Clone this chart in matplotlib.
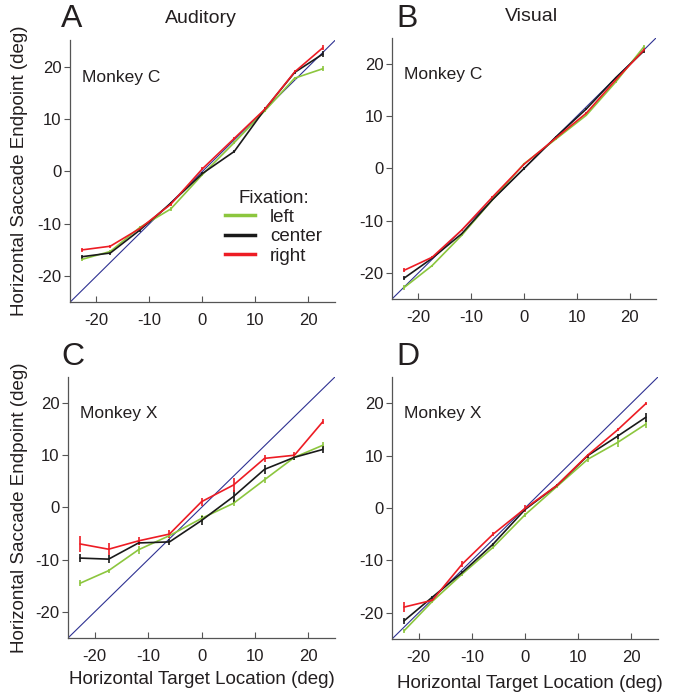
import numpy as np
import matplotlib.pyplot as plt
from matplotlib.lines import Line2D

plt.rcParams['font.family'] = ['Liberation Sans', 'DejaVu Sans']
plt.rcParams['axes.unicode_minus'] = False

# target locations (deg)
targets = [-22.7, -17.4, -11.8, -6.0, 0.0, 6.0, 11.8, 17.4, 22.7]

# Monkey C, auditory
aud_c_left = [-16.8, -15.3, -10.7, -7.2, -0.6, 5.5, 11.6, 17.8, 19.6]
aud_c_center = [-16.3, -15.6, -11.2, -6.1, -0.4, 3.8, 11.9, 18.9, 22.4]
aud_c_right = [-15.0, -14.3, -10.9, -6.3, 0.5, 6.3, 11.9, 19.0, 23.6]
aud_c_err = [0.4, 0.3, 0.3, 0.3, 0.3, 0.3, 0.3, 0.3, 0.5]

# Monkey C, visual
vis_c_left = [-22.8, -18.6, -12.8, -6.0, 0.9, 5.6, 10.2, 16.6, 23.3]
vis_c_center = [-21.0, -17.2, -12.5, -6.0, 0.0, 6.0, 11.4, 17.4, 22.5]
vis_c_right = [-19.5, -17.0, -11.8, -5.5, 0.8, 5.8, 10.6, 17.0, 22.7]
vis_c_err = [0.4, 0.2, 0.2, 0.2, 0.2, 0.2, 0.2, 0.2, 0.3]

# Monkey X, auditory
aud_x_left = [-14.5, -12.1, -8.1, -5.4, -2.1, 0.8, 5.3, 9.6, 11.9]
aud_x_center = [-9.7, -9.9, -6.8, -6.6, -2.5, 2.1, 7.3, 9.6, 11.1]
aud_x_right = [-7.0, -8.0, -6.4, -5.1, 1.1, 4.3, 9.4, 10.0, 16.4]
aud_x_err_left = [0.6, 0.4, 0.8, 0.4, 0.6, 0.6, 0.6, 0.6, 0.7]
aud_x_err_center = [0.8, 0.7, 0.4, 0.6, 0.9, 1.3, 0.9, 0.6, 0.6]
aud_x_err_right = [1.5, 1.2, 0.8, 0.7, 0.8, 1.3, 0.6, 0.6, 0.5]

# Monkey X, visual
vis_x_left = [-23.4, -17.8, -12.6, -7.5, -1.3, 4.1, 9.3, 12.5, 16.0]
vis_x_center = [-21.5, -17.0, -12.3, -6.9, -0.3, 4.3, 10.0, 13.7, 17.3]
vis_x_right = [-18.9, -17.6, -10.7, -5.0, -0.1, 4.3, 10.1, 14.9, 19.9]
vis_x_err_left = [0.4, 0.3, 0.3, 0.3, 0.4, 0.3, 0.6, 0.8, 0.8]
vis_x_err_center = [0.6, 0.3, 0.3, 0.3, 0.3, 0.3, 0.4, 0.5, 0.8]
vis_x_err_right = [1.0, 0.3, 0.5, 0.4, 0.6, 0.3, 0.3, 0.3, 0.3]

green = '#8cc63e'
black = '#1a1a1a'
red = '#ed1c24'
navy = '#2e3192'
txt = '#231f20'

fig = plt.figure(figsize=(6.81, 6.98), dpi=100)
boxes = {
    'A': [0.1028, 0.567, 0.389, 0.375],
    'B': [0.5756, 0.5716, 0.3877, 0.374],
    'C': [0.0999, 0.086, 0.392, 0.374],
    'D': [0.5756, 0.0845, 0.3906, 0.3754],
}

panels = {
    'A': ([aud_c_left, aud_c_center, aud_c_right], [aud_c_err] * 3, 'Monkey C'),
    'B': ([vis_c_left, vis_c_center, vis_c_right], [vis_c_err] * 3, 'Monkey C'),
    'C': ([aud_x_left, aud_x_center, aud_x_right],
          [aud_x_err_left, aud_x_err_center, aud_x_err_right], 'Monkey X'),
    'D': ([vis_x_left, vis_x_center, vis_x_right],
          [vis_x_err_left, vis_x_err_center, vis_x_err_right], 'Monkey X'),
}

axes = {}
for key, (series, errs, monkey) in panels.items():
    ax = fig.add_axes(boxes[key])
    axes[key] = ax
    ax.plot([-25, 25], [-25, 25], color=navy, lw=0.8, zorder=1)
    for ys, es, col in zip(series, errs, [green, black, red]):
        ax.errorbar(targets, ys, yerr=es, color=col, lw=1.2, elinewidth=1.2,
                    capsize=0, zorder=2)
    ax.set_xlim(-25, 25)
    ax.set_ylim(-25, 25)
    ax.set_xticks([-20, -10, 0, 10, 20])
    ax.set_yticks([-20, -10, 0, 10, 20])
    for s in ['top', 'right']:
        ax.spines[s].set_visible(False)
    for s in ['left', 'bottom']:
        ax.spines[s].set_color('#555555')
        ax.spines[s].set_linewidth(0.9)
    ax.tick_params(axis='x', direction='in', length=4, labelsize=12,
                   colors='#555555', labelcolor=txt, pad=8)
    ax.tick_params(axis='y', direction='out', length=4, labelsize=12,
                   colors='#555555', labelcolor=txt, pad=2)
    ax.text(0.045, 0.86, monkey, transform=ax.transAxes, fontsize=12.5,
            color=txt, va='center')

handles = [Line2D([], [], color=c, lw=2.5) for c in [green, black, red]]
leg = axes['A'].legend(handles, ['left', 'center', 'right'],
                       loc='upper left', bbox_to_anchor=(0.585, 0.43),
                       frameon=False, fontsize=13.5, title='Fixation:',
                       title_fontsize=13.5, handlelength=1.6, labelspacing=0.12,
                       handletextpad=0.8, borderpad=0, borderaxespad=0)
for t in leg.get_texts():
    t.set_color(txt)
leg.get_title().set_color(txt)

fig.text(0.090, 0.973, 'A', fontsize=23, color=txt, ha='left', va='center')
fig.text(0.582, 0.973, 'B', fontsize=23, color=txt, ha='left', va='center')
fig.text(0.090, 0.488, 'C', fontsize=23, color=txt, ha='left', va='center')
fig.text(0.582, 0.488, 'D', fontsize=23, color=txt, ha='left', va='center')
fig.text(0.295, 0.974, 'Auditory', fontsize=14, color=txt, ha='center', va='center')
fig.text(0.780, 0.976, 'Visual', fontsize=14, color=txt, ha='center', va='center')

fig.text(0.029, 0.755, 'Horizontal Saccade Endpoint (deg)', rotation=90,
         fontsize=13.5, color=txt, ha='center', va='center')
fig.text(0.029, 0.272, 'Horizontal Saccade Endpoint (deg)', rotation=90,
         fontsize=13.5, color=txt, ha='center', va='center')
fig.text(0.297, 0.026, 'Horizontal Target Location (deg)',
         fontsize=13.5, color=txt, ha='center', va='center')
fig.text(0.778, 0.021, 'Horizontal Target Location (deg)',
         fontsize=13.5, color=txt, ha='center', va='center')

fig.savefig('out.png', dpi=100)
